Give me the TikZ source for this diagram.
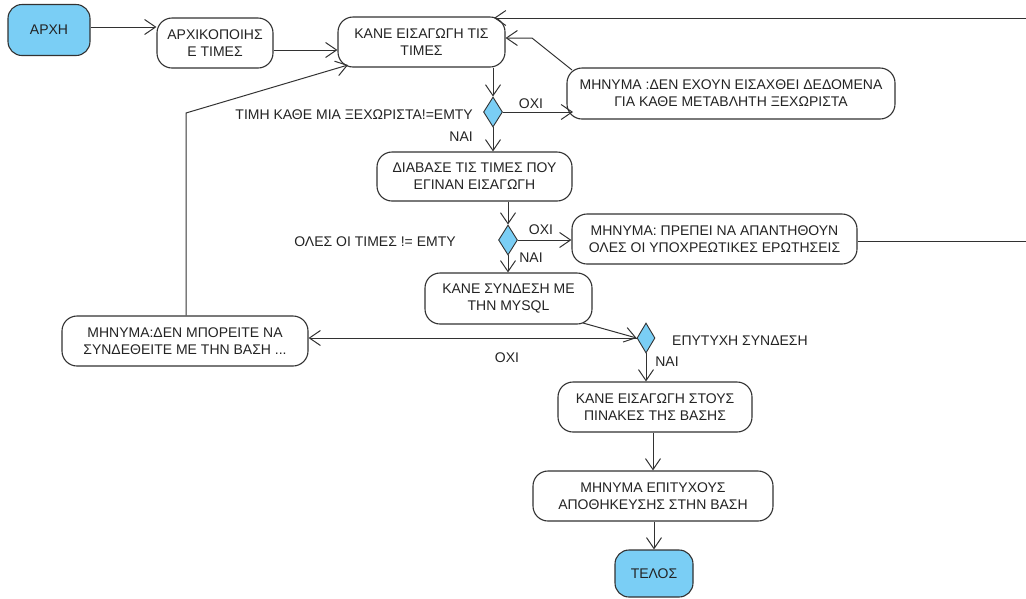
\documentclass[tikz,border=0pt]{standalone}
\usepackage{fontspec}
\setmainfont{Liberation Sans}
\usetikzlibrary{arrows.meta,shapes.geometric}
\definecolor{lblue}{RGB}{122,206,245}
\definecolor{edge}{RGB}{50,50,50}
\definecolor{txt}{RGB}{35,35,35}
\tikzset{
  box/.style={draw=edge,line width=1.1pt,rounded corners=15pt,fill=white,inner sep=0pt,
    text=txt,align=center,font=\fontsize{14}{17}\selectfont},
  term/.style={box,fill=lblue,rounded corners=14pt},
  dec/.style={draw=edge,line width=0.9pt,fill=lblue,diamond,inner sep=0pt,minimum width=19pt,minimum height=30pt},
  arr/.style={draw=edge,line width=1pt,-{Straight Barb[length=11pt,width=15pt,line width=1pt]}},
  ln/.style={draw=edge,line width=1pt},
  lbl/.style={text=txt,inner sep=0pt,font=\fontsize{14}{16}\selectfont}
}
\begin{document}
\begin{tikzpicture}[x=1pt,y=-1pt]
\useasboundingbox (0,0) rectangle (1026,598);
% nodes
\node[term,minimum width=82pt,minimum height=51pt] (start) at (49,30) {ΑΡΧΗ};
\node[box,minimum width=116pt,minimum height=50pt] (init) at (215,43) {ΑΡΧΙΚΟΠΟΙΗΣ\\Ε ΤΙΜΕΣ};
\node[box,minimum width=167pt,minimum height=50pt] (input) at (421.5,42) {ΚΑΝΕ ΕΙΣΑΓΩΓΗ ΤΙΣ\\ΤΙΜΕΣ};
\node[dec] (d1) at (493,112) {};
\node[box,minimum width=328pt,minimum height=51pt] (msg1) at (731,93.5) {ΜΗΝΥΜΑ :ΔΕΝ ΕΧΟΥΝ ΕΙΣΑΧΘΕΙ ΔΕΔΟΜΕΝΑ\\ΓΙΑ ΚΑΘΕ ΜΕΤΑΒΛΗΤΗ ΞΕΧΩΡΙΣΤΑ};
\node[box,minimum width=195pt,minimum height=49pt] (read) at (474.5,176.5) {ΔΙΑΒΑΣΕ ΤΙΣ ΤΙΜΕΣ ΠΟΥ\\ΕΓΙΝΑΝ ΕΙΣΑΓΩΓΗ};
\node[dec] (d2) at (508,240) {};
\node[box,minimum width=285pt,minimum height=50pt] (msg2) at (714.5,239) {ΜΗΝΥΜΑ: ΠΡΕΠΕΙ ΝΑ ΑΠΑΝΤΗΘΟΥΝ\\ΟΛΕΣ ΟΙ ΥΠΟΧΡΕΩΤΙΚΕΣ ΕΡΩΤΗΣΕΙΣ};
\node[box,minimum width=167pt,minimum height=51pt] (connect) at (508.5,298.5) {ΚΑΝΕ ΣΥΝΔΕΣΗ ΜΕ\\ΤΗΝ MYSQL};
\node[dec,minimum width=18pt] (d3) at (646,338) {};
\node[box,minimum width=246pt,minimum height=50pt] (msg3) at (185,341) {ΜΗΝΥΜΑ:ΔΕΝ ΜΠΟΡΕΙΤΕ ΝΑ\\ΣΥΝΔΕΘΕΙΤΕ ΜΕ ΤΗΝ ΒΑΣΗ ...};
\node[box,minimum width=194pt,minimum height=50pt] (insert) at (655,407) {ΚΑΝΕ ΕΙΣΑΓΩΓΗ ΣΤΟΥΣ\\ΠΙΝΑΚΕΣ ΤΗΣ ΒΑΣΗΣ};
\node[box,minimum width=240pt,minimum height=50pt] (msgok) at (653,496) {ΜΗΝΥΜΑ ΕΠΙΤΥΧΟΥΣ\\ΑΠΟΘΗΚΕΥΣΗΣ ΣΤΗΝ ΒΑΣΗ};
\node[term,minimum width=78pt,minimum height=47pt] (end) at (654,573.5) {ΤΕΛΟΣ};
% labels
\node[lbl,anchor=east] (l1) at (473,115) {ΤΙΜΗ ΚΑΘΕ ΜΙΑ ΞΕΧΩΡΙΣΤΑ!=ΕΜΤΥ};
\node[lbl,anchor=east] (l2) at (473,137) {ΝΑΙ};
\node[lbl] (l3) at (531,104) {ΟΧΙ};
\node[lbl] (l4) at (375,242) {ΟΛΕΣ ΟΙ ΤΙΜΕΣ != ΕΜΤΥ};
\node[lbl] (l5) at (541,230) {ΟΧΙ};
\node[lbl] (l6) at (531,258) {ΝΑΙ};
\node[lbl,anchor=west] (l7) at (672,341) {ΕΠΥΤΥΧΗ ΣΥΝΔΕΣΗ};
\node[lbl] (l8) at (667,362) {ΝΑΙ};
\node[lbl] (l9) at (507,358) {ΟΧΙ};
% helper coordinates
\coordinate (r1) at (1040,241);
\coordinate (r2) at (1040,18);
\coordinate (k1) at (532,38);
\coordinate (m3c) at (186,113);
% connectors
\draw[arr] (start.east |- 0,27) -- (init.west |- 0,27);
\draw[arr] (init.east |- 0,50) -- (input.west |- 0,50);
\draw[arr] (msg2.east |- 0,241) -- (r1) -- (r2) -- (494,18);
\draw[arr] (572,70) -- (k1) -- (input.east |- k1);
\draw[arr] (input.south -| d1.north) -- (d1.north);
\draw[arr] (d1.east) -- (573,112);
\draw[arr] (d1.south) -- (read.north -| d1.south);
\draw[arr] (read.south -| d2.north) -- (d2.north);
\draw[arr] (d2.east) -- (msg2.west |- d2.east);
\draw[arr] (d2.south) -- (connect.north -| d2.south);
\draw[arr] (583,323) -- (d3.west);
\draw[arr] (d3.west) -- (msg3.east |- d3.west);
\draw[arr] (msg3.north -| m3c) -- (m3c) -- (348,65);
\draw[arr] (d3.south) -- (insert.north -| d3.south);
\draw[arr] (insert.south -| msgok.north) -- (msgok.north);
\draw[arr] (msgok.south -| end.north) -- (end.north);
\end{tikzpicture}
\end{document}
